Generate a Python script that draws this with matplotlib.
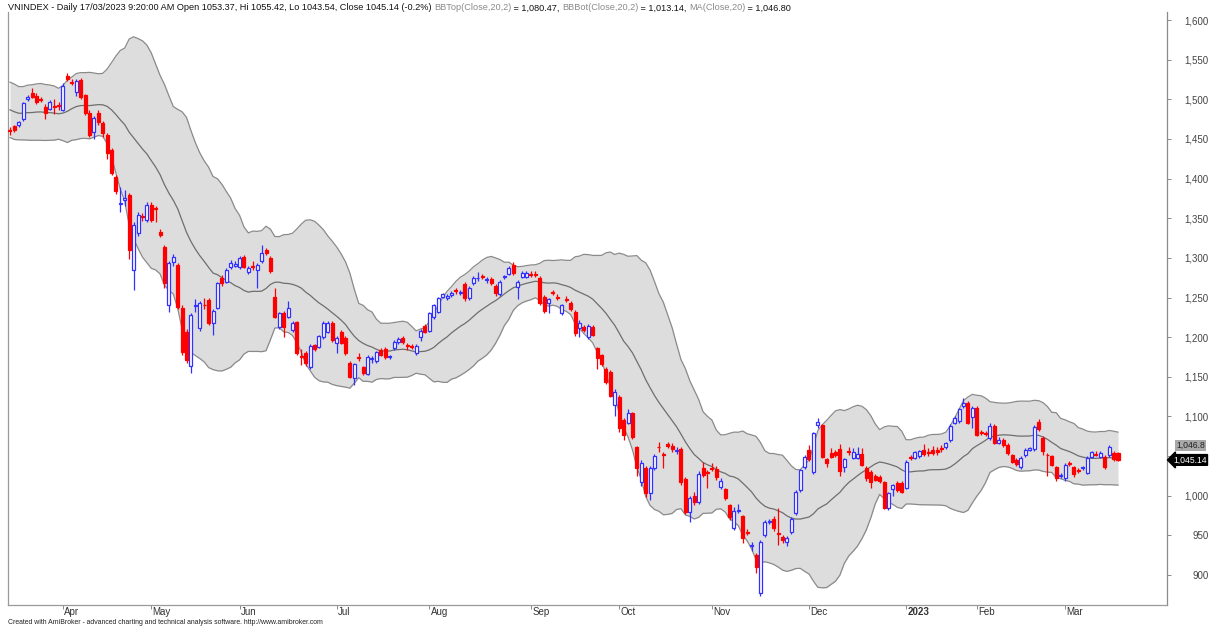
import numpy as np
import pandas as pd
import matplotlib
matplotlib.use("Agg")
import matplotlib.pyplot as plt
from matplotlib.transforms import blended_transform_factory, ScaledTranslation

# ---------------- data (VNINDEX daily, 16/03/2022 - 17/03/2023) ----------------
opens = [1461,1466,1467,1475,1500,1508,1504,1500,1490,1488,1491,1493,1487,1529,1522,1509,1524,1505,1483,1459,
         1483,1470,1455,1436,1402,1368,1373,1379,1285,1331,1353,1348,1367,1363,1333,1314,1240,1295,1291,1237,
         1207,1163,1239,1212,1241,1247,1218,1237,1275,1270,1288,1290,1289,1301,1282,1290,1285,1296,1310,1300,
         1251,1213,1230,1226,1209,1219,1176,1180,1162,1190,1188,1200,1207,1218,1193,1207,1199,1167,1148,1175,
         1162,1154,1173,1170,1184,1185,1175,1186,1194,1199,1190,1189,1180,1200,1214,1208,1225,1232,1251,1249,
         1253,1259,1256,1267,1249,1268,1274,1277,1272,1273,1265,1254,1276,1280,1291,1263,1276,1276,1280,1280,
         1275,1251,1243,1257,1251,1230,1248,1243,1232,1212,1213,1200,1213,1186,1177,1160,1156,1114,1125,1096,
         1092,1104,1061,1017,1035,1003,1035,1062,1053,1065,1063,1057,1059,1021,980,1000,992,1035,1030,1035,
         1034,1011,1008,988,959,981,974,954,937,925,877,950,967,971,953,948,942,954,978,1007,
         1036,1058,1030,1089,1089,1046,1054,1055,1059,1036,1056,1048,1048,1053,1035,1030,1025,1024,1017,985,
         1008,1016,1016,1010,1049,1048,1050,1058,1055,1058,1058,1060,1061,1070,1092,1094,1113,1117,1099,1111,
         1080,1079,1073,1088,1067,1070,1064,1051,1045,1036,1051,1058,1059,1093,1073,1052,1050,1036,1025,1022,
         1041,1036,1032,1035,1029,1049,1053,1049,1049,1051,1054,1053.37]
highs = [1465,1468,1472,1497,1505,1514,1508,1503,1494,1499,1500,1497,1520,1533,1526,1526,1527,1507,1486,1479,
         1487,1472,1457,1438,1404,1389,1385,1382,1345,1358,1356,1370,1370,1365,1336,1316,1296,1305,1293,1240,
         1210,1231,1248,1246,1250,1250,1236,1270,1278,1287,1297,1296,1302,1303,1290,1296,1293,1316,1313,1302,
         1262,1232,1233,1245,1220,1221,1185,1182,1191,1192,1203,1220,1220,1220,1201,1209,1201,1170,1168,1180,
         1164,1177,1176,1183,1186,1187,1178,1196,1200,1202,1193,1192,1191,1210,1216,1232,1242,1251,1256,1254,
         1258,1262,1260,1270,1264,1277,1282,1280,1276,1276,1267,1272,1279,1290,1295,1272,1283,1283,1284,1284,
         1277,1253,1250,1260,1254,1242,1252,1245,1234,1222,1215,1216,1215,1188,1179,1162,1158,1135,1127,1098,
         1110,1106,1063,1045,1037,1038,1053,1068,1055,1068,1066,1062,1062,1024,1000,1005,1031,1042,1033,1041,
         1037,1022,1010,990,986,990,976,958,942,928,944,970,971,975,984,951,949,973,1007,1034,
         1051,1064,1081,1098,1091,1048,1060,1058,1065,1048,1062,1060,1062,1060,1037,1032,1027,1026,1019,1005,
         1015,1018,1018,1045,1052,1057,1058,1065,1060,1063,1062,1064,1068,1090,1100,1111,1123,1119,1113,1113,
         1083,1082,1092,1090,1074,1073,1066,1053,1047,1050,1060,1062,1089,1097,1075,1054,1052,1038,1029,1041,
         1044,1038,1035,1038,1050,1057,1056,1056,1051,1064,1056,1055.42]
lows = [1455,1459,1465,1473,1498,1502,1494,1496,1475,1486,1482,1487,1485,1523,1518,1504,1501,1480,1452,1450,
        1468,1452,1425,1404,1380,1358,1366,1298,1260,1328,1347,1345,1345,1345,1326,1262,1232,1290,1235,1178,
        1168,1155,1232,1208,1236,1215,1203,1235,1265,1268,1286,1288,1286,1287,1280,1285,1262,1294,1304,1281,
        1224,1210,1200,1224,1207,1177,1165,1164,1160,1183,1186,1198,1205,1194,1180,1191,1178,1148,1140,1170,
        1152,1152,1168,1168,1176,1173,1172,1184,1192,1192,1184,1185,1178,1195,1205,1206,1223,1230,1249,1247,
        1251,1255,1253,1246,1247,1266,1271,1273,1268,1266,1252,1252,1273,1278,1279,1248,1274,1274,1276,1276,
        1241,1230,1230,1253,1247,1228,1244,1233,1202,1200,1207,1198,1201,1160,1164,1141,1124,1100,1080,1070,
        1090,1072,1025,1012,998,995,1033,1055,1035,1060,1055,1053,1014,977,967,988,990,1024,1010,1031,
        1020,1009,994,970,957,978,940,950,930,902,873,948,964,955,938,941,936,952,976,1005,
        1034,1044,1028,1085,1047,1036,1047,1049,1025,1030,1051,1046,1046,1037,1018,1010,1018,1016,983,982,
        1000,1005,1003,1008,1045,1046,1048,1050,1050,1051,1052,1055,1059,1068,1090,1092,1111,1090,1085,1075,
        1076,1075,1070,1065,1065,1062,1052,1041,1038,1034,1049,1056,1057,1082,1052,1025,1037,1018,1022,1018,
        1038,1024,1029,1033,1027,1047,1050,1047,1034,1049,1044,1043.54]
closes = [1460,1461,1471,1495,1503,1503,1497,1499,1483,1497,1490,1492,1517,1525,1521,1523,1503,1483,1455,1476,
          1471,1457,1432,1407,1384,1369,1376,1310,1341,1354,1352,1367,1348,1362,1329,1268,1293,1301,1238,1181,
          1171,1228,1240,1243,1240,1218,1233,1268,1268,1285,1293,1292,1300,1289,1287,1289,1291,1306,1306,1283,
          1226,1230,1213,1237,1218,1180,1175,1167,1189,1185,1201,1218,1218,1196,1199,1193,1180,1150,1166,1174,
          1155,1175,1174,1181,1178,1175,1176,1194,1198,1194,1189,1188,1189,1208,1207,1230,1240,1249,1254,1252,
          1256,1258,1257,1249,1262,1275,1275,1276,1273,1268,1256,1270,1277,1287,1281,1270,1281,1281,1279,1279,
          1243,1233,1248,1256,1250,1240,1247,1235,1205,1218,1209,1214,1203,1174,1166,1143,1126,1131,1085,1077,
          1104,1074,1035,1041,1003,1035,1050,1061,1052,1063,1059,1058,1017,980,997,992,1028,1026,1029,1034,
          1024,1019,997,973,981,982,947,953,938,910,942,967,968,959,952,944,947,971,1005,1032,
          1049,1046,1079,1093,1049,1041,1049,1051,1031,1046,1055,1055,1053,1039,1022,1017,1020,1019,985,1003,
          1013,1007,1005,1043,1048,1055,1057,1053,1054,1054,1055,1059,1066,1088,1098,1109,1117,1092,1111,1077,
          1079,1078,1088,1067,1070,1064,1054,1043,1040,1048,1058,1060,1087,1084,1056,1051,1039,1022,1026,1039,
          1040,1027,1031,1036,1048,1055,1052,1054,1036,1062,1046,1045.14]
# closes of the 19 sessions before the first visible bar (needed for the 20-day bands)
warmup_closes = [1510,1508,1495,1488,1500,1485,1495,1497,1502,1500,1510,1500,1480,1455,1470,1478,1480,1458,1463]
holidays = ["2022-04-11", "2022-05-02", "2022-05-03", "2022-09-01", "2022-09-02", "2023-01-02",
            "2023-01-20", "2023-01-23", "2023-01-24", "2023-01-25", "2023-01-26"]
y_ticks = [900, 950, 1000, 1050, 1100, 1150, 1200, 1250, 1300, 1350, 1400, 1450, 1500, 1550, 1600]
# the 1,050 label is hidden behind the last-value markers in the reference
y_ticklabels = ["900", "950", "1,000", "", "1,100", "1,150", "1,200", "1,250", "1,300", "1,350",
                "1,400", "1,450", "1,500", "1,550", "1,600"]

n = len(closes)
dates = pd.bdate_range("2022-01-01", "2023-03-17", freq="C", holidays=holidays)[-n:]

allc = pd.Series(warmup_closes + closes, dtype=float)
ma = allc.rolling(20).mean().values[-n:]
sd = allc.rolling(20).std(ddof=0).values[-n:]
bb_top = ma + 2 * sd
bb_bot = ma - 2 * sd

o = np.array(opens, float); h = np.array(highs, float)
l = np.array(lows, float); c = np.array(closes, float)
idx = np.arange(n)

# ---------------- figure ----------------
W, H = 1220, 628
fig = plt.figure(figsize=(W / 100, H / 100), dpi=100, facecolor="white")
ax = fig.add_axes([8 / W, (H - 605) / H, (1167 - 8) / W, (605 - 12) / H])
ax.set_facecolor("white")

ax.fill_between(idx, bb_bot, bb_top, color="#dddddd", lw=0, zorder=1)
ax.plot(idx, bb_top, color="#8a8a8a", lw=0.9, zorder=2)
ax.plot(idx, bb_bot, color="#8a8a8a", lw=0.9, zorder=2)
ax.plot(idx, ma, color="#6e6e6e", lw=0.9, zorder=2)

up = c >= o
blue = "#3030ff"
red = "#ff0000"
ax.vlines(idx[up], l[up], h[up], color=blue, lw=0.9, zorder=3)
ax.vlines(idx[~up], l[~up], h[~up], color=red, lw=0.9, zorder=3)
bw = 0.68
body = np.maximum(np.abs(c - o), 0.6)
ax.bar(idx[up], body[up], bottom=np.minimum(o, c)[up], width=bw,
       facecolor="white", edgecolor=blue, lw=0.9, zorder=4)
ax.bar(idx[~up], body[~up], bottom=np.minimum(o, c)[~up], width=bw,
       facecolor=red, edgecolor=red, lw=0.9, zorder=4)

ax.set_xlim(-0.45, 262.1)
ax.set_ylim(862.2, 1610.1)

# spines
ax.spines["top"].set_visible(False)
ax.spines["left"].set_color("#9a9a9a")
ax.spines["bottom"].set_color("#9a9a9a")
ax.spines["right"].set_color("#8a8a8a")
for s in ["left", "bottom", "right"]:
    ax.spines[s].set_linewidth(0.9)

# y axis on right
ax.yaxis.tick_right()
ax.set_yticks(y_ticks)
ax.set_yticklabels(y_ticklabels)
ax.tick_params(axis="y", which="both", length=3, width=0.7, color="#8a8a8a",
               labelsize=7, labelcolor="#444444", pad=27.0, left=False)
for t in ax.get_yticklabels():
    t.set_horizontalalignment("right")
    t.set_fontfamily("Liberation Sans")

# x axis months
d = pd.Series(dates)
first = np.where(d.dt.month.values[1:] != d.dt.month.values[:-1])[0] + 1
labels = [str(dates[i].year) if dates[i].month == 1 else dates[i].strftime("%b") for i in first]
ax.set_xticks(first)
ax.set_xticklabels(labels)
ax.tick_params(axis="x", length=3, width=0.7, color="#8a8a8a", labelsize=7,
               labelcolor="#333333", pad=0)
off = ScaledTranslation(1.5 / 100, 2 / 100, fig.dpi_scale_trans)
for t, lab in zip(ax.get_xticklabels(), labels):
    t.set_horizontalalignment("left")
    t.set_fontfamily("Liberation Sans")
    t.set_transform(t.get_transform() + off)
    if lab.isdigit():
        t.set_fontweight("bold")

# last-value markers on the axis
trans = blended_transform_factory(ax.transAxes, ax.transData)
ax.text(1.0 + 9 / 1159, ma[-1] + 17, f"{ma[-1]:,.1f}", transform=trans, fontsize=6.2,
        family="Liberation Sans", color="#222222", va="center", ha="left",
        bbox=dict(boxstyle="square,pad=0.1", fc="#a8a8a8", ec="none"), clip_on=False, zorder=6)
ax.text(1.0 + 6 / 1159, c[-1], f"{c[-1]:,.2f}", transform=trans, fontsize=6.2,
        family="Liberation Sans", color="white", va="center", ha="left",
        bbox=dict(boxstyle="larrow,pad=0.1", fc="black", ec="black"), clip_on=False, zorder=7)

# header line
fig.canvas.draw()
renderer = fig.canvas.get_renderer()
segments = [
    ("VNINDEX - Daily 17/03/2023 9:20:00 AM Open 1053.37, Hi 1055.42, Lo 1043.54, Close 1045.14 (-0.2%) ", "#111111"),
    ("BBTop(Close,20,2)", "#8a8a8a"),
    (" = 1,080.47, ", "#111111"),
    ("BBBot(Close,20,2)", "#8a8a8a"),
    (" = 1,013.14, ", "#111111"),
    ("MA(Close,20)", "#8a8a8a"),
    (" = 1,046.80", "#111111"),
]
x0 = 8
for txt, col in segments:
    t = fig.text(x0 / W, 1 - 8 / H, txt, fontsize=6.6, family="Liberation Sans", color=col,
                 va="center", ha="left")
    bb = t.get_window_extent(renderer=renderer)
    x0 += bb.width

fig.text(8 / W, 1 - 622 / H,
         "Created with AmiBroker - advanced charting and technical analysis software. http://www.amibroker.com",
         fontsize=4.95, family="Liberation Sans", color="#222222", va="center", ha="left")

fig.savefig("out.png", dpi=100, facecolor="white")
